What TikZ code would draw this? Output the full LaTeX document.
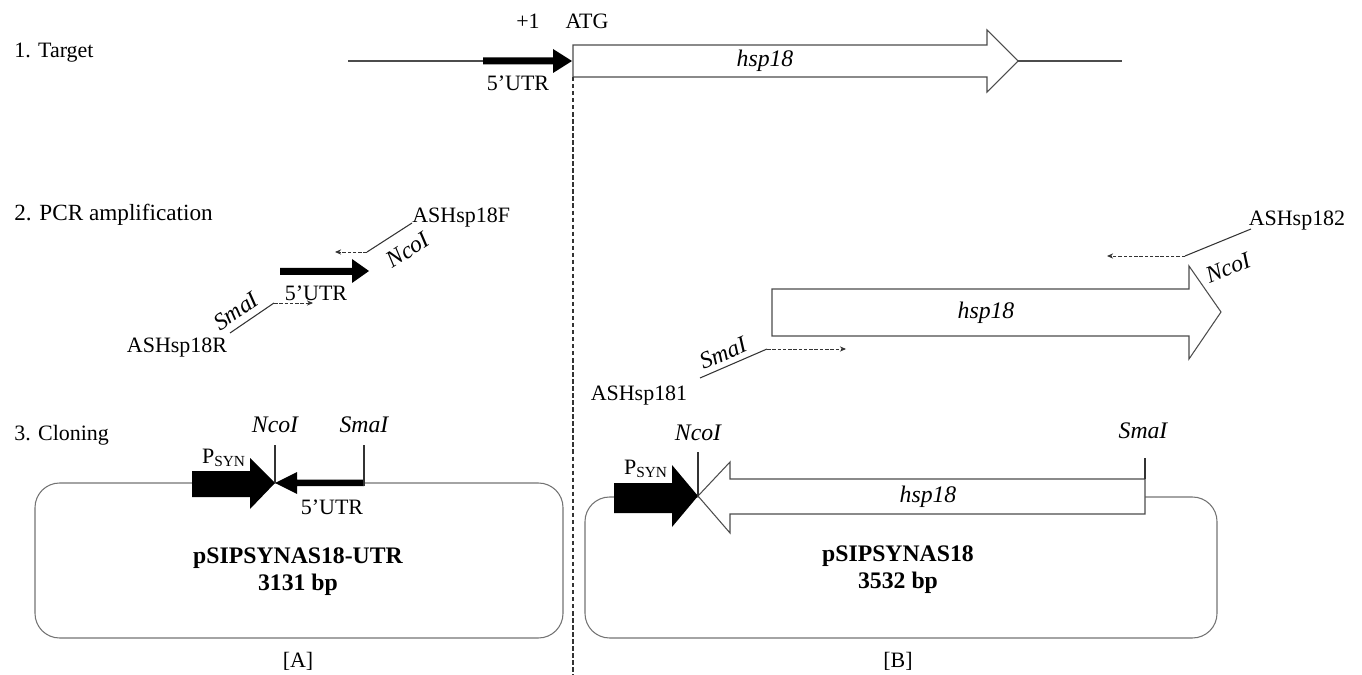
\documentclass[tikz,border=0pt]{standalone}
\usepackage{fontspec}
\setmainfont{Liberation Serif}
\usetikzlibrary{arrows.meta}

\begin{document}
\begin{tikzpicture}[
  x=0.02cm, y=-0.02cm,
  every node/.style={font=\fontsize{12.5}{15}\selectfont, inner sep=0pt},
  lbl/.style={anchor=west},
  site/.style={font=\fontsize{13.5}{15}\selectfont\itshape},
  plasname/.style={font=\fontsize{13.5}{15.5}\selectfont\bfseries, align=center},
  dna/.style={draw=black!70, line width=0.6pt},
  gene/.style={draw=black!70, line width=0.6pt, fill=white},
  utr/.style={fill=black},
  oligo/.style={draw=black!80, line width=0.6pt},
  primer/.style={black!80, line width=0.5pt, dash pattern=on 2pt off 1pt,
                 -{Stealth[length=3.5pt, width=3pt]}},
  plasmid/.style={draw=black!55, line width=0.6pt, rounded corners=14pt},
  divider/.style={black!80, line width=0.7pt, dash pattern=on 2.5pt off 1.5pt}
]
  \useasboundingbox (0,0) rectangle (1362,675);

  % row labels
  \node[lbl] (row1) at (14,53) {1. Target};
  \node[lbl, font=\fontsize{13.2}{15}\selectfont] (row2) at (14,215) {2. PCR amplification};
  \node[lbl] (row3) at (14,435) {3. Cloning};

  % 1. target
  \draw[dna] (348,61) -- (483,61);
  \fill[utr] (483,57.5) -- (553,57.5) -- (553,49) -- (572,61) -- (553,73)
    -- (553,64.5) -- (483,64.5) -- cycle;
  \draw[gene] (573,45) -- (987,45) -- (987,30) -- (1018,61) -- (987,92)
    -- (987,77) -- (573,77) -- cycle;
  \draw[dna] (1018,61) -- (1122,61);
  \node (plus1) at (528,21) {+1};
  \node (atg) at (587,21) {ATG};
  \node (utrT) at (518,83) {5'UTR};
  \node[site] (hspT) at (765,61) {hsp18};
  \draw[divider] (573,77) -- (573,675);

  % 2. PCR, left
  \fill[utr] (280,268) -- (352,268) -- (352,259) -- (369,271) -- (352,283)
    -- (352,275) -- (280,275) -- cycle;
  \node (utrP) at (316,293) {5'UTR};
  \coordinate (fA) at (367,252);
  \coordinate (fAend) at (412,223);
  \draw[oligo] (fA) -- (fAend);
  \draw[primer] (fA) -- (335,252);
  \node[site, rotate=33] (ncoP) at (408,250) {NcoI};
  \node[anchor=south west] (ashF) at (412,228) {ASHsp18F};
  \coordinate (rA) at (274,303);
  \coordinate (rAend) at (230,333);
  \draw[oligo] (rA) -- (rAend);
  \draw[primer] (rA) -- (313,303);
  \node[site, rotate=34] (smaP) at (236,311) {SmaI};
  \node (ashR) at (177,348) {ASHsp18R};

  % 2. PCR, right
  \draw[gene] (772,289) -- (1189,289) -- (1189,266) -- (1221,312) -- (1189,359)
    -- (1189,336) -- (772,336) -- cycle;
  \node[site] (hspP) at (986,313) {hsp18};
  \coordinate (fB) at (1185,256);
  \coordinate (fBend) at (1251,229);
  \draw[oligo] (fB) -- (fBend);
  \draw[primer] (fB) -- (1107,256);
  \node[site, rotate=22] (ncoQ) at (1228,268) {NcoI};
  \node (ash182) at (1297,221) {ASHsp182};
  \coordinate (rB) at (767,349);
  \coordinate (rBend) at (700,378);
  \draw[oligo] (rB) -- (rBend);
  \draw[primer] (rB) -- (846,349);
  \node[site, rotate=23] (smaQ) at (723,353) {SmaI};
  \node (ash181) at (639,396) {ASHsp181};

  % 3. cloning, left
  \draw[plasmid] (35,483) rectangle (563,638);
  \fill[utr] (192,471) -- (250,471) -- (250,458) -- (275,483) -- (250,509)
    -- (250,497) -- (192,497) -- cycle;
  \node (psynA) at (224,458) {P\textsubscript{SYN}};
  \fill[utr] (275,483) -- (297,472) -- (297,479.5) -- (364,479.5) -- (364,486)
    -- (297,486) -- (297,494) -- cycle;
  \draw[oligo] (275,483) -- (275,445);
  \draw[oligo] (364,486) -- (364,445);
  \node[site] (ncoA) at (275,425) {NcoI};
  \node[site] (smaA) at (364,425) {SmaI};
  \node (utrA) at (332,507) {5'UTR};
  \node[plasname] (pA) at (298,572) {pSIPSYNAS18-UTR\\3131 bp};
  \node (tagA) at (298,661) {[A]};

  % 3. cloning, right
  \draw[plasmid] (585,497) rectangle (1217,638);
  \fill[utr] (614,483) -- (672,483) -- (672,465) -- (698,496) -- (672,527)
    -- (672,513) -- (614,513) -- cycle;
  \node (psynB) at (646,469) {P\textsubscript{SYN}};
  \draw[gene] (698,496) -- (730,462) -- (730,479) -- (1145,479) -- (1145,514)
    -- (730,514) -- (730,533) -- cycle;
  \draw[oligo] (698,496) -- (698,452);
  \draw[oligo] (1145,479) -- (1145,458);
  \node[site] (ncoB) at (698,433) {NcoI};
  \node[site] (smaB) at (1143,431) {SmaI};
  \node[site] (hspB) at (928,497) {hsp18};
  \node[plasname] (pB) at (898,570) {pSIPSYNAS18\\3532 bp};
  \node (tagB) at (898,661) {[B]};
\end{tikzpicture}
\end{document}
